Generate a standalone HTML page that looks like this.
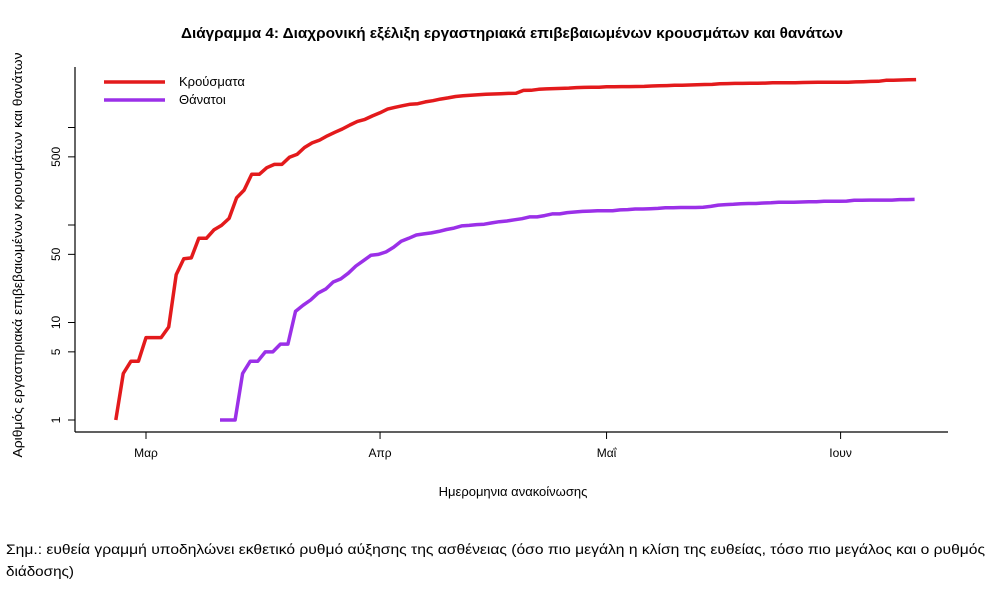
<!DOCTYPE html>
<html><head><meta charset="utf-8"><style>
body{margin:0;background:#fff;width:1006px;height:602px;overflow:hidden;font-family:"Liberation Sans","DejaVu Sans",sans-serif}
</style></head><body>
<svg id="chart" width="1006" height="602" xmlns="http://www.w3.org/2000/svg" font-family="Liberation Sans, DejaVu Sans, sans-serif">
<text x="512" y="38" text-anchor="middle" font-size="14.5" font-weight="bold" textLength="662" lengthAdjust="spacingAndGlyphs">Διάγραμμα 4: Διαχρονική εξέλιξη εργαστηριακά επιβεβαιωμένων κρουσμάτων και θανάτων</text>
<text transform="translate(22,255) rotate(-90)" text-anchor="middle" font-size="13" textLength="405" lengthAdjust="spacingAndGlyphs">Αριθμός εργαστηριακά επιβεβαιωμένων κρουσμάτων και θανάτων</text>
<text x="513" y="496" text-anchor="middle" font-size="13">Ημερομηνια ανακοίνωσης</text>
<text x="6" y="554" font-size="14" textLength="979" lengthAdjust="spacingAndGlyphs">Σημ.: ευθεία γραμμή υποδηλώνει εκθετικό ρυθμό αύξησης της ασθένειας (όσο πιο μεγάλη η κλίση της ευθείας, τόσο πιο μεγάλος και ο ρυθμός</text>
<text x="6" y="576" font-size="14" textLength="68" lengthAdjust="spacingAndGlyphs">διάδοσης)</text>
<line x1="75" y1="67" x2="75" y2="432" stroke="#000" stroke-width="1.2"/>
<line x1="75" y1="432" x2="948" y2="432" stroke="#000" stroke-width="1.2"/>
<g id="ticks"></g>
<g id="series"></g>
<g>
<line x1="104" y1="82" x2="165" y2="82" stroke="#e31a1c" stroke-width="3.5"/>
<text x="179" y="86" font-size="13">Κρούσματα</text>
<line x1="104" y1="100" x2="165" y2="100" stroke="#9b30e8" stroke-width="3.5"/>
<text x="179" y="104" font-size="13">Θάνατοι</text>
</g>
</svg>
<script>
const yTicks=[1,5,10,50,100,500,1000];
const yTickLabels=["1","5","10","50","","500",""];
const monthLabels=["Μαρ","Απρ","Μαΐ","Ιουν"];
const monthDays=[0,31,61,92];
const casesStart=-4;
const cases=[1,3,4,4,7,7,7,9,31,45,46,73,73,89,99,117,190,228,331,331,387,418,418,495,530,624,695,743,821,892,966,1061,1156,1212,1314,
1415,1544,1613,1673,1735,1755,1832,1884,1955,2011,2081,2114,2145,2170,2192,2207,2224,2235,2245,2401,2408,2463,2490,2506,2517,2534,2566,2576,2591,2591,
2612,2620,2625,2626,2632,2642,2663,2678,2691,2710,2716,2726,2744,2760,2770,2810,2819,2834,2836,2840,2850,2853,2873,2876,2878,2882,2892,2903,2906,2909,2915,
2917,2918,2937,2952,2967,2980,3049,3058,3072,3088,3102];
const deathsStart=9.8;
const deaths=[1,1,1,3,4,4,5,5,6,6,13,15,17,20,22,26,28,32,38,43,49,
50,53,59,68,73,79,81,83,86,90,93,98,99,101,102,105,108,110,113,116,121,121,125,130,130,134,136,138,139,140,
140,140,143,144,146,146,147,148,150,150,151,151,151,152,155,160,162,163,165,166,166,168,169,171,171,171,172,173,173,175,175,
175,176,179,179,180,180,180,180,182,182,183];
function xs(d){return 146+d*7.55;}
function ys(v){return 420-97.5*Math.log10(v);}
const NS="http://www.w3.org/2000/svg";
const tg=document.getElementById('ticks');
yTicks.forEach((t,i)=>{
  const l=document.createElementNS(NS,'line');
  
  
  l.setAttribute('x1',68);l.setAttribute('x2',75);l.setAttribute('y1',ys(t));l.setAttribute('y2',ys(t));l.setAttribute('stroke','#000');
  tg.appendChild(l);
  if(yTickLabels[i]){
    const tx=document.createElementNS(NS,'text');
    
    
    tx.setAttribute('transform',`translate(60,${ys(t)}) rotate(-90)`);
    tx.setAttribute('text-anchor','middle');tx.setAttribute('font-size','12');
    tx.textContent=yTickLabels[i];tg.appendChild(tx);
  }
});
monthDays.forEach((d,i)=>{
  const l=document.createElementNS(NS,'line');
  
  
  l.setAttribute('x1',xs(d));l.setAttribute('x2',xs(d));l.setAttribute('y1',432);l.setAttribute('y2',439);l.setAttribute('stroke','#000');
  tg.appendChild(l);
  const tx=document.createElementNS(NS,'text');
  
  
  tx.setAttribute('x',xs(d));tx.setAttribute('y',457);tx.setAttribute('text-anchor','middle');tx.setAttribute('font-size','12');
  tx.textContent=monthLabels[i];tg.appendChild(tx);
});
const sg=document.getElementById('series');
function line(arr,start,color,name){
  const p=document.createElementNS(NS,'polyline');
  
  
  p.setAttribute('points',arr.map((v,i)=>xs(start+i).toFixed(1)+','+ys(v).toFixed(1)).join(' '));
  p.setAttribute('fill','none');p.setAttribute('stroke',color);p.setAttribute('stroke-width','3.5');p.setAttribute('stroke-linejoin','round');
  sg.appendChild(p);
}
line(cases,casesStart,'#e31a1c','cases-line');
line(deaths,deathsStart,'#9b30e8','deaths-line');
</script>
</body></html>
